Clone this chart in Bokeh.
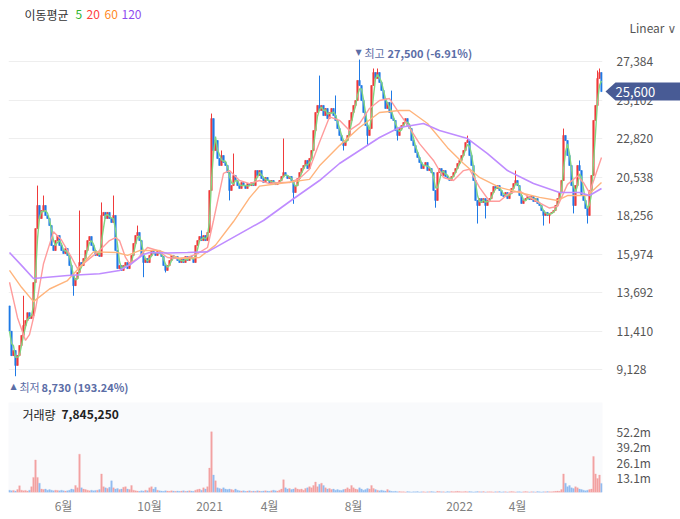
import pandas as pd
from bokeh.plotting import figure
from bokeh.models import (ColumnDataSource, FixedTicker, Label, Range1d,
                          NumeralTickFormatter, GridBox)
from bokeh.embed import file_html
from bokeh.resources import INLINE

FONT = "Noto Sans CJK KR"

# ---------------- data (one candle = ~2 trading days) ----------------
closes = [
    11400, 9950, 10250, 9370, 9960, 10550, 11150, 11740, 12030, 12500,
    12150, 12330, 14280, 17480, 18850, 18080, 18550, 18850, 18260, 18080,
    17660, 16480, 16180, 16770, 17070, 16480, 16180, 16000, 16300, 15890,
    15290, 14700, 14100, 14520, 14880, 15470, 15290, 15710, 16180, 16770,
    17010, 16480, 16180, 15890, 16060, 15830, 18260, 18440, 18080, 18440,
    18080, 17840, 18260, 16180, 15110, 15290, 15000, 15290, 15470, 15110,
    15470, 15890, 16600, 17070, 17250, 16770, 15890, 15470, 15710, 15470,
    15890, 16180, 16060, 15890, 16180, 16000, 15830, 15290, 15000, 15290,
    15590, 15890, 15710, 15830, 15590, 15470, 15710, 15470, 15830, 15590,
    15830, 15710, 15470, 16480, 16770, 17010, 16770, 17070, 16770, 17250,
    19740, 24000, 22110, 22700, 21640, 21220, 21810, 21400, 21220, 20800,
    19740, 20030, 20630, 20330, 20030, 19860, 20210, 20030, 19860, 20150,
    20030, 20210, 20030, 20920, 20630, 20920, 20450, 20210, 20510, 20330,
    20150, 20330, 20210, 20090, 20210, 20330, 20570, 20800, 20630, 20450,
    20570, 20330, 19620, 20030, 20450, 20800, 21040, 21220, 21520, 21040,
    21640, 22110, 23290, 24360, 24780, 24480, 24780, 24180, 24600, 24000,
    24360, 24600, 24180, 23890, 23410, 23000, 22700, 22400, 22700, 23000,
    23890, 24360, 24780, 25070, 26260, 25960, 25070, 24360, 23590, 23000,
    23410, 25960, 26730, 26380, 26730, 26140, 25670, 25190, 24600, 24960,
    24360, 24000, 23890, 23290, 23000, 23410, 23590, 23770, 24000, 23590,
    23410, 22700, 22400, 21990, 21700, 21400, 21040, 21220, 21400, 20920,
    21040, 20800, 19740, 19150, 20800, 21040, 20630, 20920, 20570, 20450,
    20330, 20570, 20800, 21040, 21340, 21520, 21810, 22110, 22580, 22700,
    21810, 21220, 20330, 19150, 18850, 19260, 19030, 19260, 18850, 19150,
    19260, 19620, 19980, 19860, 20030, 19740, 19440, 19380, 19620, 19260,
    19560, 19860, 20150, 20330, 20030, 19440, 18970, 19150, 19260, 19380,
    19200, 19380, 19090, 19260, 18970, 18850, 18550, 18260, 18440, 18260,
    18380, 18440, 18550, 18850, 19260, 19620, 20330, 23000, 22700, 21810,
    21220, 20030, 18850, 20030, 21220, 20920, 19440, 19150, 18670, 18260,
    19740, 20630, 23890, 24780, 26380, 26730, 25600,
]
first_open = 12900

spike_high_idx = [7, 14, 17, 35, 46, 52, 64, 96, 101, 102, 106, 112, 137, 155,
                  163, 175, 182, 184, 191, 229, 253, 277, 285, 294, 295]
spike_high_val = [13500, 20030, 19440, 18550, 19030, 19440, 17660, 17370, 24300,
                  23400, 22110, 21930, 22820, 26550, 25370, 27500, 26970, 26970,
                  25660, 22990, 20920, 23410, 21520, 26850, 26970]
spike_low_idx = [3, 32, 67, 78, 110, 142, 167, 179, 194, 213, 234, 238, 267, 270,
                 282, 289]
spike_low_val = [8730, 13500, 14600, 14880, 19150, 18950, 22110, 22400, 22700,
                 18720, 17780, 18080, 17660, 17780, 18380, 17780]

volumes_m = [
    2.0, 1.5, 1.8, 1.2, 2.5, 5.8, 2.0, 1.5, 1.8, 1.2,
    2.0, 5.0, 13.0, 28.0, 13.0, 8.0, 3.0, 2.5, 3.0, 2.0,
    2.5, 2.0, 1.5, 2.0, 1.8, 1.5, 2.0, 1.5, 1.2, 1.5,
    2.0, 3.0, 2.5, 6.0, 4.0, 33.0, 4.0, 3.0, 2.5, 2.0,
    1.5, 2.0, 1.5, 1.8, 2.0, 2.5, 16.0, 5.0, 4.0, 3.5,
    4.5, 10.0, 4.0, 3.0, 3.5, 2.5, 3.0, 4.5, 5.0, 3.0,
    2.5, 6.0, 2.0, 1.5, 1.2, 1.0, 1.5, 1.2, 2.0, 1.5,
    4.0, 5.0, 3.0, 4.5, 2.0, 1.5, 1.2, 1.0, 1.5, 1.2,
    1.0, 1.5, 1.2, 1.0, 1.3, 1.0, 1.2, 1.5, 1.0, 1.2,
    1.5, 1.2, 1.0, 2.0, 2.5, 3.0, 2.0, 4.0, 3.0, 5.0,
    21.0, 52.2, 15.0, 10.0, 4.0, 3.5, 3.0, 4.0, 3.0, 2.5,
    3.0, 2.5, 2.0, 3.0, 2.0, 1.5, 1.2, 1.5, 1.0, 1.2,
    1.5, 1.0, 1.2, 1.0, 1.5, 1.2, 1.0, 1.3, 1.5, 1.2,
    1.0, 1.5, 2.0, 1.5, 1.2, 2.0, 3.0, 11.0, 4.0, 3.0,
    3.5, 2.5, 3.0, 4.0, 3.0, 2.5, 3.0, 2.0, 3.5, 4.0,
    5.0, 4.0, 6.0, 9.0, 5.0, 7.0, 8.0, 6.0, 4.0, 3.0,
    3.5, 2.5, 3.0, 2.0, 2.5, 2.0, 1.8, 2.5, 3.0, 4.0,
    3.0, 6.0, 4.0, 3.0, 2.5, 4.0, 3.0, 2.0, 2.5, 3.5,
    3.0, 6.0, 3.5, 2.5, 2.0, 1.5, 2.0, 1.5, 1.2, 2.5,
    1.5, 1.0, 0.8, 1.0, 0.7, 0.8, 0.6, 0.7, 0.5, 0.8,
    0.6, 0.5, 0.7, 0.6, 0.8, 0.5, 0.6, 0.7, 0.5, 0.6,
    0.7, 0.8, 0.6, 0.5, 1.0, 0.8, 0.6, 0.7, 0.5, 0.8,
    0.6, 0.9, 0.7, 0.8, 1.0, 0.8, 0.6, 0.7, 0.9, 0.6,
    0.8, 0.7, 0.5, 0.6, 0.8, 0.7, 0.6, 0.8, 0.5, 0.6,
    0.7, 0.6, 0.5, 0.7, 0.6, 0.8, 0.5, 0.6, 0.7, 0.5,
    0.6, 0.8, 0.7, 0.5, 0.6, 0.7, 0.5, 0.6, 0.8, 0.6,
    0.5, 0.7, 0.6, 0.5, 0.8, 0.6, 0.5, 0.7, 0.6, 0.8,
    0.7, 0.6, 0.8, 1.0, 1.2, 1.0, 2.5, 16.0, 8.0, 5.0,
    6.0, 4.0, 3.5, 5.0, 4.0, 3.0, 2.5, 2.0, 1.5, 2.0,
    2.5, 3.0, 31.0, 16.0, 12.0, 15.0, 7.84525,
]

ma20_idx = [0, 4, 8, 10, 13, 17, 22, 26, 31, 34, 40, 45, 50, 53, 55, 58, 60, 64,
            69, 74, 79, 84, 89, 94, 99, 102, 107, 110, 115, 120, 125, 130, 135,
            140, 145, 150, 155, 160, 165, 170, 175, 180, 185, 190, 195, 200, 205,
            212, 217, 222, 227, 230, 235, 240, 245, 250, 255, 260, 265, 270, 274,
            279, 284, 287, 290, 296]
ma20_val = [14300, 12200, 10850, 11200, 12700, 15400, 17300, 16800, 15770, 15110,
            15700, 16180, 16770, 16950, 16770, 15770, 15400, 15700, 16360, 16180,
            15770, 15710, 15770, 16000, 16360, 17960, 20750, 20920, 20330, 20150,
            20330, 20150, 20210, 20210, 20450, 21000, 22600, 24100, 23900, 23300,
            23700, 24600, 25070, 25190, 24300, 23470, 22520, 21520, 20510, 20330,
            20920, 21000, 19920, 19100, 19100, 19600, 19700, 19350, 19000, 18700,
            18800, 20100, 20600, 20200, 19600, 21700]
ma60_idx = [0, 6, 12, 20, 29, 35, 42, 54, 59, 65, 75, 85, 95, 103, 112, 120, 125,
            135, 150, 155, 165, 175, 185, 195, 200, 209, 219, 227, 235, 245, 255,
            265, 274, 279, 289, 296]
ma60_val = [15000, 14000, 13150, 13900, 14400, 15170, 16100, 16060, 15890, 16180,
            16180, 15710, 15770, 16500, 17900, 19300, 20000, 20150, 20400, 21200,
            22400, 23470, 24360, 24480, 24480, 23710, 22280, 21340, 20510, 19920,
            19620, 19330, 19150, 19440, 19440, 20210]
ma120_idx = [0, 6, 12, 29, 45, 55, 61, 67, 70, 79, 89, 99, 109, 127, 142, 155, 165,
             175, 185, 195, 207, 215, 229, 239, 249, 262, 275, 285, 290, 296]
ma120_val = [16060, 15300, 14520, 14700, 14800, 15000, 15400, 15950, 16060, 16030,
             16060, 16100, 16770, 17960, 19250, 20330, 21340, 22110, 22880, 23470,
             23710, 23290, 22820, 21930, 20920, 20150, 19620, 19620, 19440, 19860]

price_ticks = [9128, 11410, 13692, 15974, 18256, 20538, 22820, 25102, 27384]
vol_ticks_m = [13.06, 26.1, 39.16, 52.2]
month_tick_pos = [27, 70, 100, 130, 172, 225, 254]
month_tick_labels = ["6월", "10월", "2021", "4월", "8월", "2022", "4월"]
ma_names = ["5", "20", "60", "120"]

# ---------------- derived ----------------
n = len(closes)
xs = list(range(n))
opens = [first_open] + closes[:-1]
highs = [max(o, c) for o, c in zip(opens, closes)]
lows = [min(o, c) for o, c in zip(opens, closes)]
for i, v in zip(spike_high_idx, spike_high_val):
    highs[i] = max(highs[i], v)
for i, v in zip(spike_low_idx, spike_low_val):
    lows[i] = min(lows[i], v)

UP, DOWN, FLAT = "#f03a3a", "#1f7ae6", "#111111"
cols = [UP if c > o else (DOWN if c < o else FLAT) for o, c in zip(opens, closes)]
vcols = ["#f4a2a2" if c >= o else "#92bdf2" for o, c in zip(opens, closes)]
ma5 = pd.Series(closes).rolling(3, min_periods=1).mean().tolist()

src = ColumnDataSource(dict(x=xs, o=opens, c=closes, h=highs, l=lows,
                            top=[max(a, b) for a, b in zip(opens, closes)],
                            bot=[min(a, b) for a, b in zip(opens, closes)],
                            col=cols, vcol=vcols,
                            vol=[v * 1e6 for v in volumes_m], ma5=ma5))

# ---------------- price figure ----------------
Y_LO, Y_HI = 7410, 28630
FH = 358
TOP = 40
per_px = (Y_HI - Y_LO) / FH


def px_x(px):
    return (px - 9) / 2.0


def px_y(py):
    return Y_HI - (py - TOP) * per_px


p = figure(frame_width=594, frame_height=FH, x_range=Range1d(-0.5, n - 0.5),
           y_range=Range1d(Y_LO, Y_HI), y_axis_location="right",
           x_axis_location=None, toolbar_location=None, output_backend="svg",
           min_border_left=8, min_border_right=78, min_border_top=TOP,
           min_border_bottom=0)
p.outline_line_color = None
p.xgrid.visible = False
p.ygrid.grid_line_color = "#eeeeee"
p.yaxis.ticker = FixedTicker(ticks=price_ticks)
p.yaxis.formatter = NumeralTickFormatter(format="0,0")
p.yaxis.axis_line_color = None
p.yaxis.major_tick_line_color = None
p.yaxis.minor_tick_line_color = None
p.yaxis.major_tick_out = 0
p.yaxis.major_label_standoff = 14
p.yaxis.major_label_text_font = FONT
p.yaxis.major_label_text_font_size = "12px"
p.yaxis.major_label_text_color = "#555555"

p.segment("x", "h", "x", "l", color="col", line_width=1, source=src)
p.vbar("x", width=0.8, top="top", bottom="bot", fill_color="col",
       line_color="col", line_width=0.5, source=src)

p.line("x", "ma5", color="#80d680", line_width=1.4, source=src)
p.line(ma20_idx, ma20_val, color="#ff9c9c", line_width=1.4)
p.line(ma60_idx, ma60_val, color="#ffb47c", line_width=1.4)
p.line(ma120_idx, ma120_val, color="#bf8cff", line_width=1.6)


def lab(fig, x, y, text, color="#333333", size="12px", style="normal",
        font=FONT, align="left"):
    fig.add_layout(Label(x=x, y=y, text=text, text_color=color,
                         text_font_size=size, text_font_style=style,
                         text_font=font, text_baseline="middle",
                         text_align=align))


# high / low markers
hi_i = max(range(n), key=lambda i: highs[i])
lo_i = min(range(n), key=lambda i: lows[i])
last = closes[-1]
hi_v, lo_v = highs[hi_i], lows[lo_i]
MK = "#5b6da6"
lab(p, px_x(355), px_y(52), "▼", MK, size="8px", font="DejaVu Sans")
lab(p, px_x(364), px_y(52), "최고", MK, size="11px")
lab(p, px_x(387), px_y(52), f"{hi_v:,} ({(last - hi_v) / hi_v * 100:.2f}%)", MK,
    size="11px", style="bold")
lab(p, px_x(10), px_y(386), "▲", MK, size="8px", font="DejaVu Sans")
lab(p, px_x(19), px_y(386), "최저", MK, size="11px")
lab(p, px_x(41), px_y(386), f"{lo_v:,} ({(last - lo_v) / lo_v * 100:.2f}%)", MK,
    size="11px", style="bold")

# ---------------- overlay (header + last-price tag), same cell as p ----------
PW, PH = 680, TOP + FH
ov = figure(width=PW, height=PH, x_range=Range1d(0, PW), y_range=Range1d(PH, 0),
            x_axis_location=None, y_axis_location=None, toolbar_location=None,
            output_backend="svg", min_border=0, background_fill_alpha=0,
            border_fill_alpha=0)
ov.outline_line_color = None
ov.grid.visible = False
try:
    ov.frame_align = False
except Exception:
    pass

lab(ov, 24, 14, "이동평균", "#333333")
ma_cols = ["#2fb52f", "#ff4040", "#ff8a1f", "#8f4cf0"]
for name, cx, cc in zip(ma_names, [75, 86, 104, 121], ma_cols):
    lab(ov, cx, 14, name, cc)
lab(ov, 629, 27, "Linear", "#555555")
lab(ov, 667, 28, "∨", "#666666", size="12px", font="DejaVu Sans")

tag_y = TOP + (Y_HI - last) / per_px
ov.patch([605, 615, 690, 690, 615],
         [tag_y, tag_y - 9, tag_y - 9, tag_y + 9, tag_y + 9],
         fill_color="#485b95", line_color=None)
lab(ov, 615, tag_y, f"{last:,}", "#ffffff", size="13px")

# ---------------- volume figure ----------------
v = figure(frame_width=594, frame_height=90, x_range=p.x_range,
           y_range=Range1d(0, 77.4e6), y_axis_location="right",
           toolbar_location=None, output_backend="svg",
           min_border_left=8, min_border_right=78, min_border_top=4,
           min_border_bottom=27, background_fill_color="#f9fafc")
v.outline_line_color = None
v.grid.visible = False
v.vbar("x", width=0.8, top="vol", bottom=0, fill_color="vcol",
       line_color="vcol", line_width=0.3, source=src)
v.yaxis.ticker = FixedTicker(ticks=[t * 1e6 for t in vol_ticks_m])
v.yaxis.formatter = NumeralTickFormatter(format="0.0a")
for ax in (v.yaxis[0], v.xaxis[0]):
    ax.axis_line_color = None
    ax.major_tick_line_color = None
    ax.minor_tick_line_color = None
    ax.major_tick_out = 0
    ax.major_label_text_font = FONT
    ax.major_label_text_font_size = "12px"
v.yaxis.major_label_standoff = 14
v.yaxis.major_label_text_color = "#555555"
v.xaxis.ticker = FixedTicker(ticks=month_tick_pos)
v.xaxis.major_label_overrides = dict(zip(month_tick_pos, month_tick_labels))
v.xaxis.major_label_standoff = 4
v.xaxis.major_label_text_color = "#808080"

vy = 77.4e6 * (492 - 414) / 90
lab(v, px_x(22), vy, "거래량", "#222222")
lab(v, px_x(61), vy, f"{round(volumes_m[-1] * 1e6):,}", "#222222", style="bold")

layout = GridBox(children=[(p, 0, 0), (ov, 0, 0), (v, 1, 0)], spacing=0)
open("out.html", "w").write(file_html(layout, INLINE))
